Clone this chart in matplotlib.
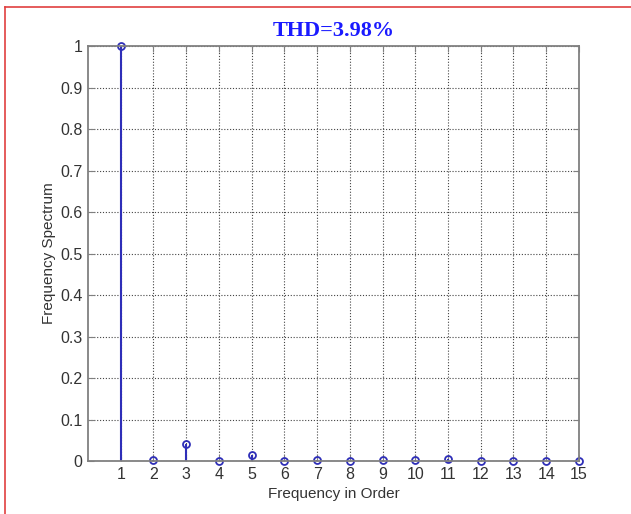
import matplotlib.pyplot as plt
from matplotlib.lines import Line2D

plt.rcParams['font.family'] = ['Liberation Sans', 'DejaVu Sans']

orders = list(range(1, 16))
spectrum = [1.0, 0.002, 0.04, 0.001, 0.015, 0.001, 0.003, 0.001,
            0.003, 0.002, 0.004, 0.001, 0.001, 0.001, 0.001]
thd_text = 'THD=3.98%'

fig = plt.figure(figsize=(6.31, 5.14), dpi=100)
ax = fig.add_axes([0.1395, 0.103, 0.778, 0.8075])

blue = '#2e2eb8'
ml, sl, bl = ax.stem(orders, spectrum, basefmt=' ')
plt.setp(sl, color=blue, linewidth=1.5)
plt.setp(ml, color=blue, markerfacecolor='none', markersize=5, markeredgewidth=1.3)
ml.set_clip_on(False)

ax.set_xlim(0, 15)
ax.set_ylim(0, 1)
ax.set_xticks(orders)
ax.set_yticks([i / 10 for i in range(11)])
ax.set_yticklabels(['0'] + ['0.%d' % i for i in range(1, 10)] + ['1'])
ax.grid(True, linestyle=(0, (1, 1.6)), color='#444444', linewidth=0.8)
ax.tick_params(direction='in', top=True, right=True, labelsize=11.5,
               color='#808080', labelcolor='#333333', length=4, pad=4)
for s in ax.spines.values():
    s.set_color('#808080')
    s.set_linewidth(1.3)

ax.set_xlabel('Frequency in Order', fontsize=11, color='#333333', labelpad=4)
ax.set_ylabel('Frequency Spectrum', fontsize=11, color='#333333', labelpad=3)
ax.set_title(thd_text, fontsize=16, fontweight='bold', color='#1a1aff',
             family='Liberation Serif', pad=7)

# red frame on the top and left edges
fig.add_artist(Line2D([5 / 631, 1], [1 - 7 / 514, 1 - 7 / 514], color='#e04040', linewidth=1.2))
fig.add_artist(Line2D([5 / 631, 5 / 631], [0, 1 - 7 / 514], color='#e04040', linewidth=1.2))

fig.savefig('out.png', dpi=100)
